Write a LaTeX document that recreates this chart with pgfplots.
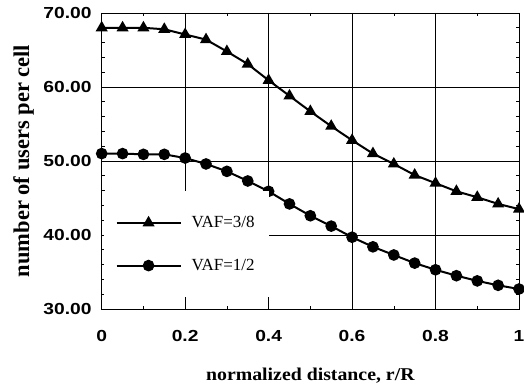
\documentclass[border=0pt]{standalone}
\usepackage{fontspec}
\setmainfont{Liberation Serif}
\newfontfamily\tickfont[FakeStretch=1.2]{Liberation Sans}
\newfontfamily\xlabfont[FakeStretch=1.1]{Liberation Serif}
\usepackage{pgfplots}
\pgfplotsset{compat=1.18}
\usetikzlibrary{calc}
\pgfplotstableread{
x y
0 68.0
0.05 68.0
0.10 68.0
0.15 67.8
0.20 67.1
0.25 66.4
0.30 64.8
0.35 63.1
0.40 60.9
0.45 58.8
0.50 56.7
0.55 54.7
0.60 52.8
0.65 51.0
0.70 49.6
0.75 48.1
0.80 47.0
0.85 45.9
0.90 45.1
0.95 44.2
1.00 43.5
}\vafthree
\pgfplotstableread{
x y
0 51.0
0.05 51.0
0.10 50.9
0.15 50.9
0.20 50.4
0.25 49.6
0.30 48.6
0.35 47.3
0.40 45.9
0.45 44.2
0.50 42.6
0.55 41.2
0.60 39.7
0.65 38.4
0.70 37.3
0.75 36.2
0.80 35.3
0.85 34.5
0.90 33.8
0.95 33.2
1.00 32.7
}\vafhalf
\begin{document}
\begin{tikzpicture}
\begin{axis}[
  name=ax,
  scale only axis,
  width=417.3pt, height=296pt,
  xmin=0, xmax=1, ymin=30, ymax=70,
  xtick={0,0.2,0.4,0.6,0.8,1},
  ytick={30,40,50,60,70},
  minor x tick num=1,
  minor y tick num=4,
  tick align=inside,
  major tick length=4pt,
  minor tick length=3pt,
  grid=major,
  major grid style={black, line width=0.8pt},
  axis line style={black, line width=0.9pt},
  tick style={black, line width=0.6pt},
  /pgf/number format/assume math mode=true,
  y tick label style={/pgf/number format/fixed, /pgf/number format/fixed zerofill, /pgf/number format/precision=2},
  ticklabel style={font=\tickfont\bfseries\fontsize{16}{18}\selectfont},
  yticklabel style={inner sep=0pt, anchor=east, xshift=-10pt},
  xticklabel style={inner sep=0pt, anchor=north, yshift=-21pt},
  xlabel={normalized distance, r/R},
  ylabel={number of users per cell},
  xlabel style={font=\xlabfont\bfseries\fontsize{18}{20}\selectfont, inner sep=0pt, at={(axis description cs:0.5,0)}, anchor=north, yshift=-59pt},
  ylabel style={font=\bfseries\fontsize{22.5}{24}\selectfont, inner sep=0pt, at={(axis description cs:0,0.5)}, anchor=center, yshift=78pt},
  clip=false,
  legend cell align=left,
  legend style={at={(rel axis cs:0.004,0.04)}, anchor=south west, draw=none, fill=white,
    inner xsep=12pt, inner ysep=23pt, row sep=26pt, column sep=8pt,
    font=\fontsize{17}{19}\selectfont},
  legend image code/.code={\draw[mark repeat=2,mark phase=2,#1] plot coordinates {(0pt,0pt) (32pt,0pt) (64pt,0pt)};},
]
\addplot[black, line width=2pt, mark=triangle*, mark size=5pt, mark options={solid}] table[x=x,y=y] {\vafthree};
\addlegendentry{VAF=3/8}
\addplot[black, line width=2pt, mark=*, mark size=4.8pt, mark options={solid}] table[x=x,y=y] {\vafhalf};
\addlegendentry{VAF=1/2}
\end{axis}
\pgfresetboundingbox
\path[use as bounding box] ($(ax.south west)+(-101.7pt,-81pt)$) rectangle ($(ax.north east)+(5pt,13pt)$);
\end{tikzpicture}
\end{document}
